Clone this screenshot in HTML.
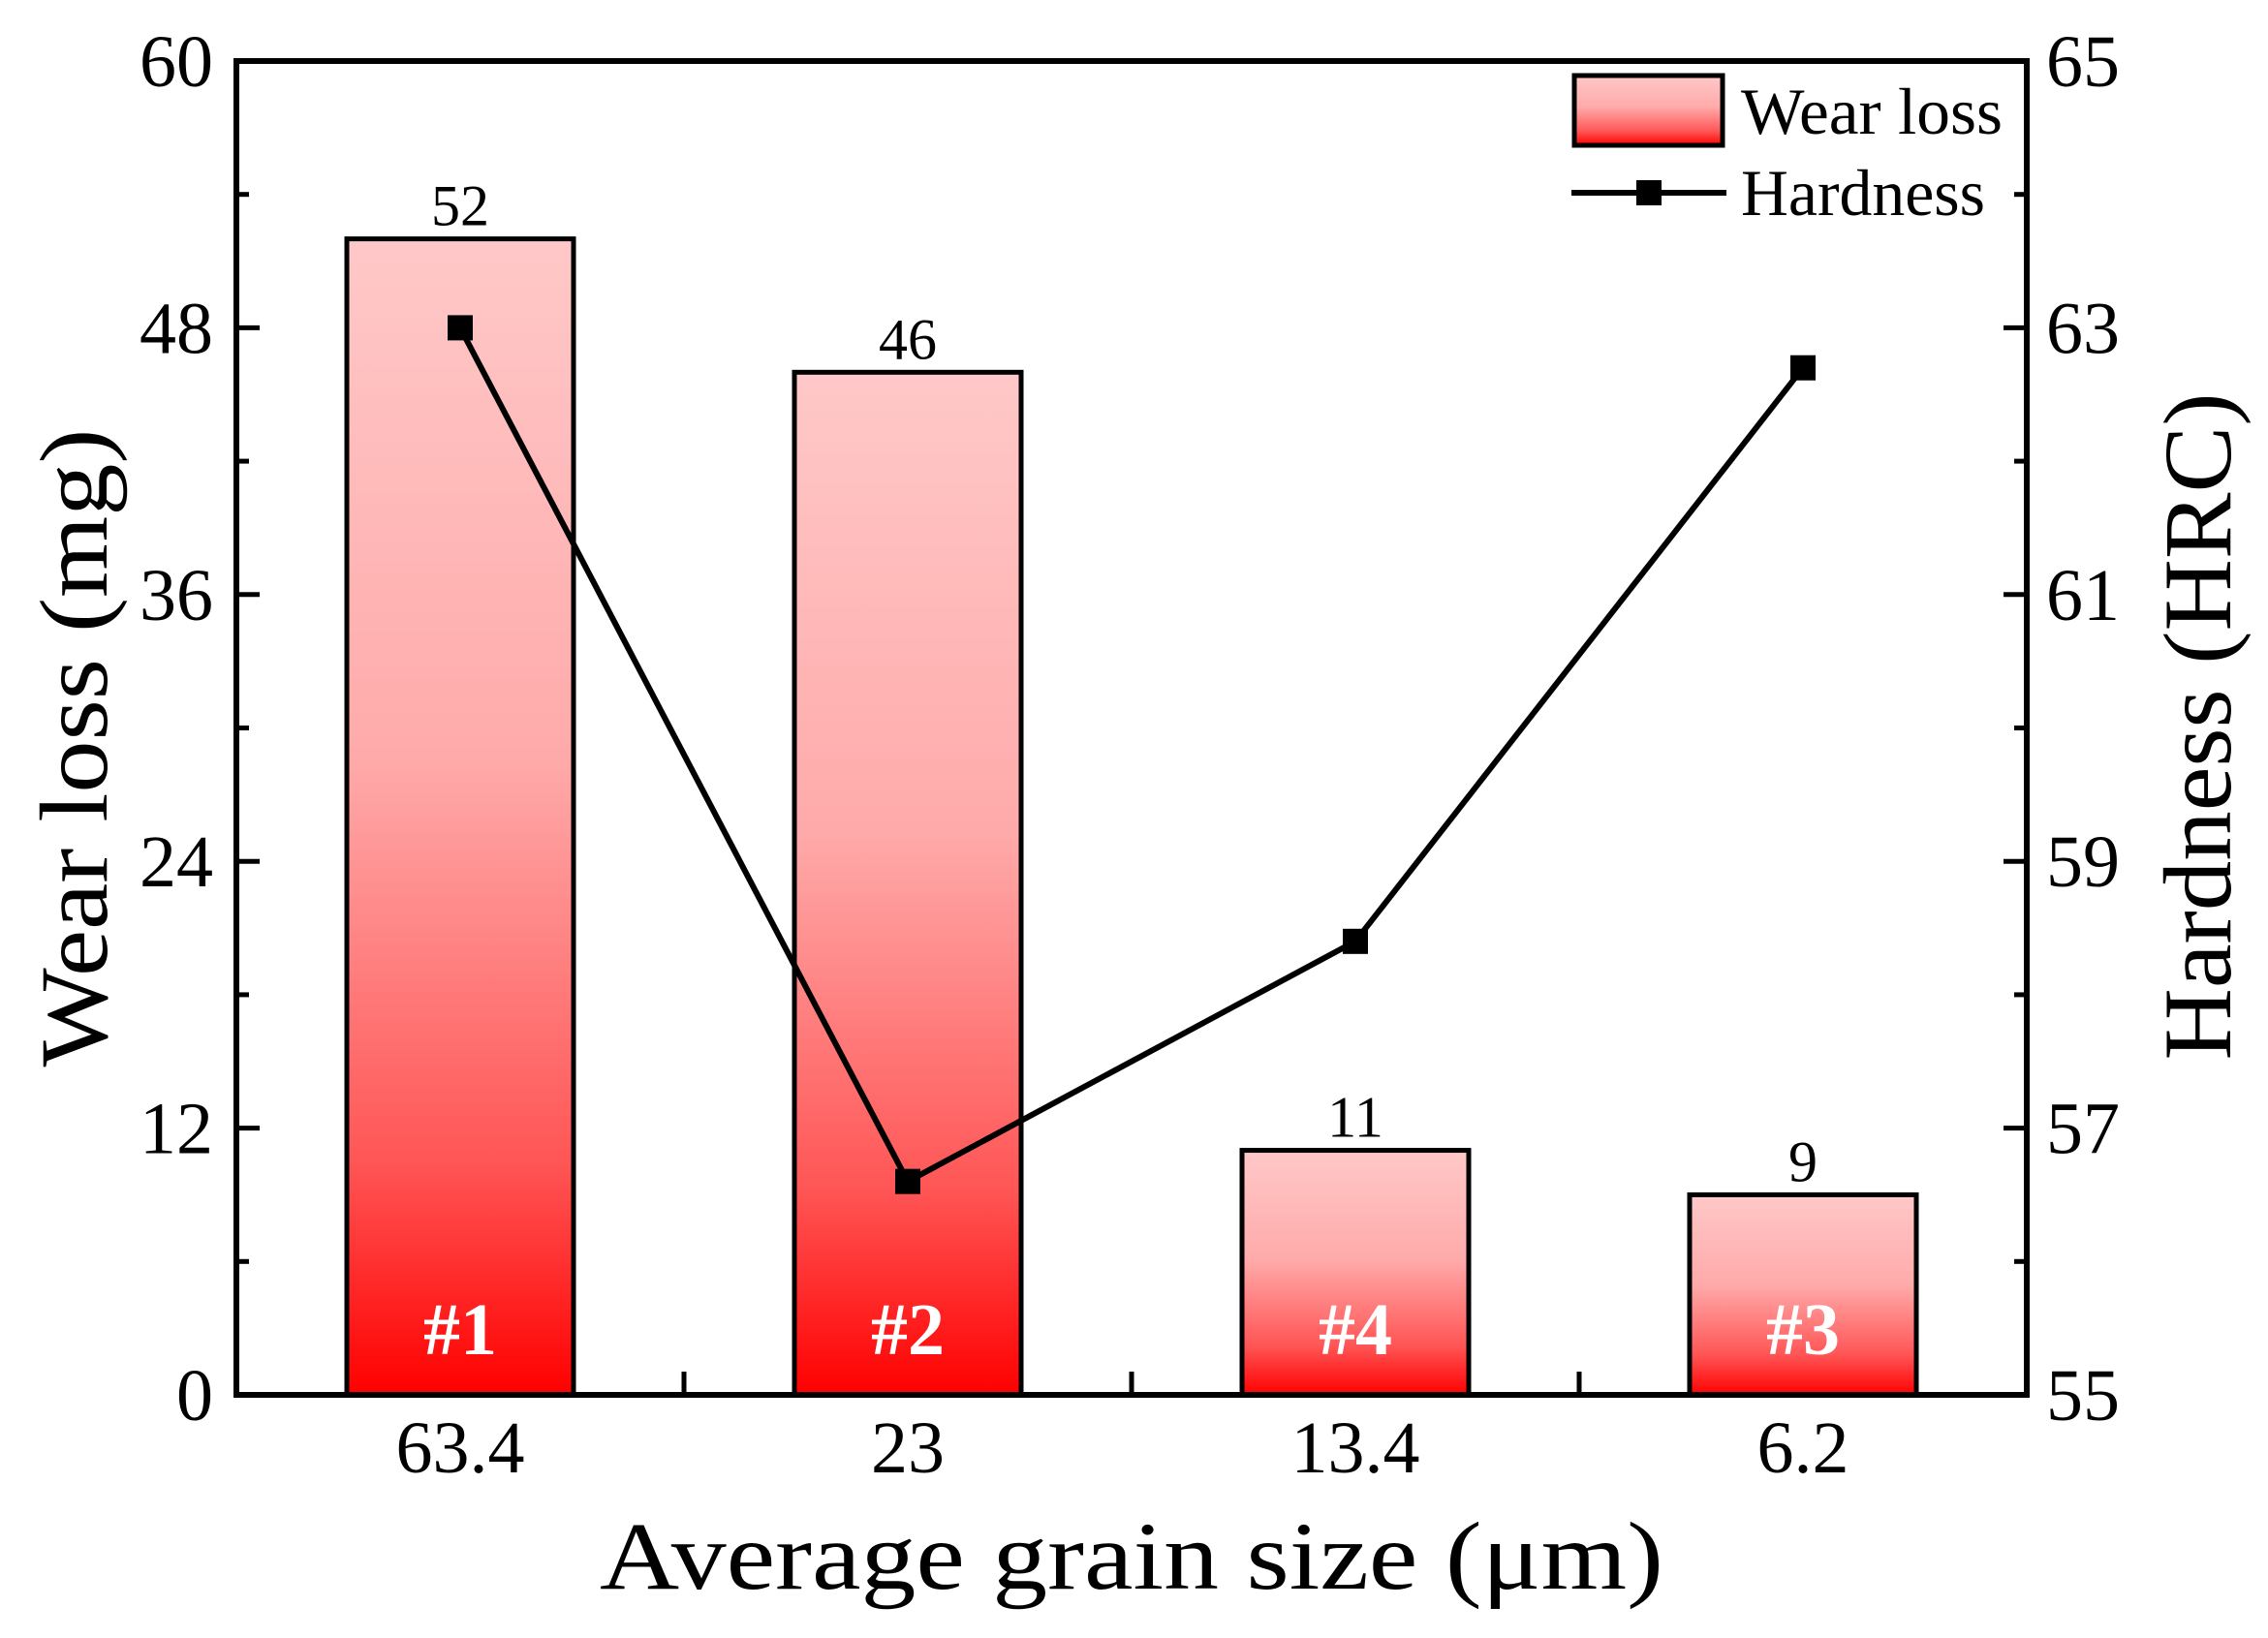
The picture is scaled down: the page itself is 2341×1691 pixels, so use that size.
<!DOCTYPE html>
<html><head><meta charset="utf-8"><style>body{margin:0;background:#fff}svg{display:block}</style></head>
<body>
<svg id="chart" width="2341" height="1691" viewBox="0 0 2341 1691" xmlns="http://www.w3.org/2000/svg" font-family="Liberation Serif, serif">
<defs>
<linearGradient id="g" x1="0" y1="0" x2="0" y2="1">
<stop offset="0" stop-color="#ffc8c8"/><stop offset="0.45" stop-color="#ffaaaa"/><stop offset="0.8" stop-color="#ff5555"/><stop offset="1" stop-color="#ff0000"/>
</linearGradient>
</defs>
<g id="plot"></g>
</svg>
<script>
const categories = ["63.4","23","13.4","6.2"];
const wearLoss = [52,46,11,9];
const hardness = [63.0,56.6,58.4,62.7];
const sampleLabels = ["#1","#2","#4","#3"];
const leftTicks = [0,12,24,36,48,60];
const rightTicks = [55,57,59,61,63,65];

const L=244,R=2092,T=63,B=1440;
const ns="http://www.w3.org/2000/svg";
const g=document.getElementById('plot');
const bw=(R-L)/categories.length;
const xc=i=>L+bw*(i+0.5);
const yl=v=>B-(v-0)/(60-0)*(B-T);
const yr=v=>B-(v-55)/(65-55)*(B-T);
function mk(tag,attrs,text){const e=document.createElementNS(ns,tag);for(const k in attrs)e.setAttribute(k,attrs[k]);if(text!==undefined)e.textContent=text;g.appendChild(e);return e;}

wearLoss.forEach((v,i)=>{
  const b=mk('rect',{x:xc(i)-117,y:yl(v),width:234,height:B-yl(v),fill:'url(#g)',stroke:'#000','stroke-width':5});
  
  
  const t=mk('text',{x:xc(i),y:yl(v)-14,'font-size':60,'text-anchor':'middle'},String(v));
  
  
  const s=mk('text',{x:xc(i),y:B-42,'font-size':76,'font-weight':'bold',fill:'#fff','text-anchor':'middle'},sampleLabels[i]);
  
  
});

const f=mk('rect',{x:L,y:T,width:R-L,height:B-T,fill:'none',stroke:'#000','stroke-width':6});



leftTicks.forEach((v,i)=>{
  mk('line',{x1:L,x2:L+24,y1:yl(v),y2:yl(v),stroke:'#000','stroke-width':5});
  if(i<leftTicks.length-1){const m=v+6;mk('line',{x1:L,x2:L+13,y1:yl(m),y2:yl(m),stroke:'#000','stroke-width':5});}
  const t=mk('text',{x:L-24,y:yl(v)+26,'font-size':76,'text-anchor':'end'},String(v));
  
  
});
rightTicks.forEach((v,i)=>{
  mk('line',{x1:R,x2:R-24,y1:yr(v),y2:yr(v),stroke:'#000','stroke-width':5});
  if(i<rightTicks.length-1){const m=v+1;mk('line',{x1:R,x2:R-13,y1:yr(m),y2:yr(m),stroke:'#000','stroke-width':5});}
  const t=mk('text',{x:R+20,y:yr(v)+26,'font-size':76,'text-anchor':'start'},String(v));
  
  
});
categories.forEach((c,i)=>{
  if(i>0) mk('line',{x1:L+bw*i,x2:L+bw*i,y1:B,y2:B-24,stroke:'#000','stroke-width':5});
  const t=mk('text',{x:xc(i),y:B+80,'font-size':76,'text-anchor':'middle'},c);
  
  
});

const pts=hardness.map((v,i)=>xc(i)+','+yr(v)).join(' ');
const pl=mk('polyline',{points:pts,fill:'none',stroke:'#000','stroke-width':6});


hardness.forEach((v,i)=>{
  const m=mk('rect',{x:xc(i)-13,y:yr(v)-13,width:26,height:26,fill:'#000'});
  
  
});

const xt=mk('text',{x:(L+R)/2,y:1640,'font-size':100,'text-anchor':'middle',textLength:1098,lengthAdjust:'spacingAndGlyphs'},'Average grain size (μm)');


const ylt=mk('text',{x:0,y:0,'font-size':100,'text-anchor':'middle',transform:'translate(110,772) rotate(-90)',textLength:659,lengthAdjust:'spacingAndGlyphs'},'Wear loss (mg)');


const yrt=mk('text',{x:0,y:0,'font-size':100,'text-anchor':'middle',transform:'translate(2302,750) rotate(-90)',textLength:689,lengthAdjust:'spacingAndGlyphs'},'Hardness (HRC)');



const lr=mk('rect',{x:1625,y:78,width:153,height:72,fill:'url(#g)',stroke:'#000','stroke-width':5});


const lt1=mk('text',{x:1797,y:138,'font-size':68,textLength:270,lengthAdjust:'spacingAndGlyphs'},'Wear loss');


const ll=mk('line',{x1:1622,x2:1782,y1:199,y2:199,stroke:'#000','stroke-width':6});


mk('rect',{x:1689,y:186,width:26,height:26,fill:'#000'});
const lt2=mk('text',{x:1797,y:222,'font-size':68,textLength:252,lengthAdjust:'spacingAndGlyphs'},'Hardness');


</script>
</body></html>
